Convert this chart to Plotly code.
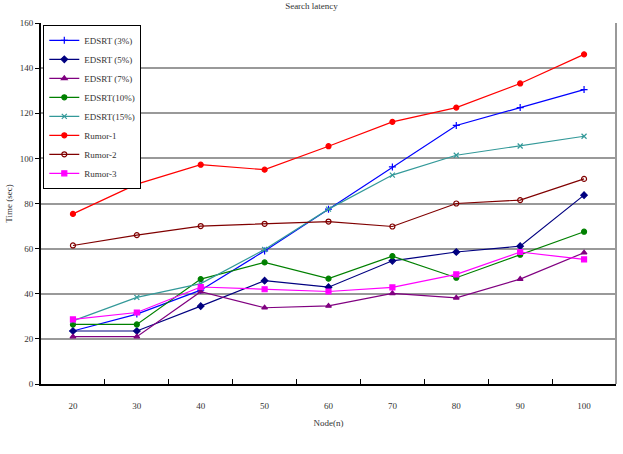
import plotly.graph_objects as go

nodes = ["20", "30", "40", "50", "60", "70", "80", "90", "100"]
edsrt3 = [23.5, 31.0, 41.6, 59.0, 77.5, 96.2, 114.6, 122.5, 130.5]
edsrt5 = [23.5, 23.5, 34.5, 45.8, 42.9, 54.6, 58.5, 61.1, 83.7]
edsrt7 = [21.0, 21.0, 40.9, 33.8, 34.6, 40.2, 38.2, 46.5, 58.2]
edsrt10 = [26.4, 26.4, 46.5, 53.9, 46.7, 56.7, 47.1, 57.3, 67.5]
edsrt15 = [28.0, 38.4, 44.5, 59.6, 77.5, 92.6, 101.4, 105.5, 109.8]
rumor1 = [75.4, 88.6, 97.2, 95.0, 105.4, 116.2, 122.5, 133.2, 146.1]
rumor2 = [61.4, 66.0, 70.0, 71.0, 72.0, 69.8, 80.0, 81.5, 90.9]
rumor3 = [28.6, 31.7, 43.0, 42.0, 41.0, 42.8, 48.6, 58.5, 55.2]

series = [
    ("EDSRT (3%)", edsrt3, "#0000FF", "cross-thin", 5),
    ("EDSRT (5%)", edsrt5, "#000080", "diamond", 5),
    ("EDSRT (7%)", edsrt7, "#800080", "triangle-up", 5),
    ("EDSRT(10%)", edsrt10, "#008000", "circle", 5),
    ("EDSRT(15%)", edsrt15, "#339999", "x-thin", 5),
    ("Rumor-1", rumor1, "#FF0000", "circle", 5),
    ("Rumor-2", rumor2, "#800000", "circle-open", 5),
    ("Rumor-3", rumor3, "#FF00FF", "square", 5),
]

fig = go.Figure()
for name, vals, color, sym, size in series:
    fig.add_trace(go.Scatter(
        x=nodes, y=vals, name=name, mode="lines+markers",
        line=dict(color=color, width=1.2),
        marker=dict(symbol=sym, size=size, color=color,
                    line=dict(color=color, width=1.2)),
    ))

font_family = "Liberation Serif, Times New Roman, serif"
fig.update_layout(
    width=623, height=454,
    margin=dict(l=34, r=7, t=23, b=70),
    paper_bgcolor="white", plot_bgcolor="white",
    font=dict(family=font_family, size=10, color="#333333"),
    title=dict(text="Search latency", x=0.5, xanchor="center", y=0.995, yanchor="top",
               font=dict(family=font_family, size=9, color="#333333")),
    showlegend=True,
    legend=dict(x=0.004, y=0.995, xanchor="left", yanchor="top",
                bordercolor="black", borderwidth=1, bgcolor="white",
                font=dict(family=font_family, size=9, color="#333333"),
                tracegroupgap=0, itemwidth=30),
    xaxis=dict(
        type="category", range=[-0.5, 8.5],
        showgrid=False, showline=True, linecolor="black", linewidth=2,
        ticks="inside", tickson="boundaries", ticklen=5, tickcolor="black",
        ticklabelstandoff=12,
        tickfont=dict(size=9),
        mirror=False,
        title=dict(text="Node(n)", standoff=10,
                   font=dict(family=font_family, size=9, color="#333333")),
    ),
    yaxis=dict(
        range=[0, 160], dtick=20,
        showgrid=True, gridcolor="#999999", gridwidth=2,
        showline=True, linecolor="black", linewidth=2,
        ticks="outside", ticklen=4, tickcolor="black",
        tickfont=dict(size=9),
        zeroline=False,
        title=dict(text="Time (sec)", standoff=6,
                   font=dict(family=font_family, size=9, color="#333333")),
    ),
)
fig.add_shape(type="line", xref="paper", yref="paper", x0=1, x1=1, y0=0, y1=1,
              line=dict(color="#999999", width=2))

fig.write_html("out.html")
